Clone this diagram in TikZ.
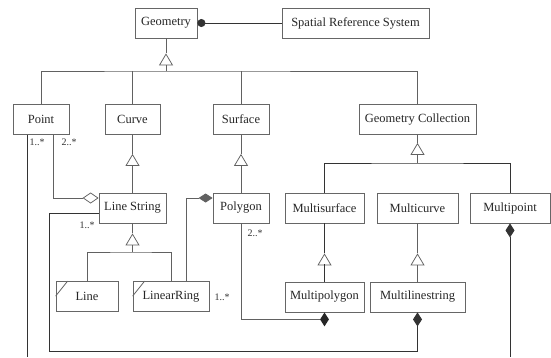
\documentclass[tikz,border=0pt]{standalone}
\usepackage{fontspec}
\setmainfont{Liberation Serif}
\usetikzlibrary{arrows.meta,shapes.geometric,calc}
\begin{document}
\begin{tikzpicture}[x=1pt,y=-1pt,
  box/.style={draw=black!60, line width=0.8pt, fill=white, inner sep=0pt,
    minimum height=30pt, text=black!85, font=\fontsize{12.5}{14}\selectfont},
  link/.style={draw=black!62, line width=0.75pt},
  heavy/.style={draw=black!80, line width=0.95pt},
  gen/.style={link, -{Triangle[open, length=12pt, width=14pt]}},
  comp/.style={link, {Diamond[length=14pt, width=9pt]}-},
  agg/.style={link, -{Diamond[open, length=16pt, width=11pt]}},
  mult/.style={font=\fontsize{10}{12}\selectfont, inner sep=0pt, text=black!80},
  slash/.style={draw=black!60, line width=0.8pt}
]
\useasboundingbox[fill=white] (0,0) rectangle (551,357);

% classes
\node[box, minimum width=62pt]  (geom)    at (166,23)    {Geometry};
\node[box, minimum width=147pt] (srs)     at (355.5,23)  {Spatial Reference System};
\node[box, minimum width=56pt]  (point)   at (41,119.5)  {Point};
\node[box, minimum width=55pt]  (curve)   at (132.5,119.5) {Curve};
\node[box, minimum width=56pt]  (surface) at (241,119.5) {Surface};
\node[box, minimum width=117pt] (gcoll)   at (417.5,119.5) {Geometry Collection};
\node[box, minimum width=67pt]  (lstring) at (132.5,208) {Line String};
\node[box, minimum width=56pt]  (polygon) at (241,208)   {Polygon};
\node[box, minimum width=79pt]  (msurf)   at (324.5,208) {Multisurface};
\node[box, minimum width=81pt]  (mcurve)  at (417.5,208) {Multicurve};
\node[box, minimum width=80pt]  (mpoint)  at (510,208)   {Multipoint};
\node[box, minimum width=62pt]  (line)    at (87,296.5)  {Line};
\node[box, minimum width=76pt]  (lring)   at (171,296.5) {LinearRing};
\node[box, minimum width=79pt]  (mpoly)   at (324.5,297) {Multipolygon};
\node[box, minimum width=95pt]  (mls)     at (417.5,297) {Multilinestring};

% corner marks on Line and LinearRing
\draw[slash] ([yshift=-15pt]line.north west) -- ([xshift=12pt]line.north west);
\draw[slash] ([yshift=-15pt]lring.north west) -- ([xshift=12pt]lring.north west);

% Geometry -- Spatial Reference System
\draw[heavy, {Circle[length=8pt]}-] (geom.east) -- (srs.west);

% Geometry generalization
\coordinate (ga) at ($(geom.south)+(0,15)$);
\coordinate (gb) at (166,71);
\draw[link] (geom.south) -- (ga);
\draw[gen] (gb) -- (ga);
\draw[link] (point.north) |- (gb) -| (gcoll.north);
\draw[link] (curve.north) -- (curve.north |- gb);
\draw[link] (surface.north) -- (surface.north |- gb);

% Curve -> Line String
\coordinate (ca) at ($(curve.south)+(0,19)$);
\draw[link] (curve.south) -- (ca);
\draw[gen] (lstring.north) -- (ca);

% Surface -> Polygon
\coordinate (sa) at ($(surface.south)+(0,19)$);
\draw[link] (surface.south) -- (sa);
\draw[gen] (polygon.north) -- (sa);

% Geometry Collection generalization
\coordinate (gca) at ($(gcoll.south)+(0,8)$);
\coordinate (gcb) at (417.5,163);
\draw[link] (gcoll.south) -- (gca);
\draw[gen] (gcb) -- (gca);
\draw[heavy] (msurf.north) |- (gcb) -| (mpoint.north);

% Line String generalization
\coordinate (lsa) at ($(lstring.south)+(0,10)$);
\coordinate (lsb) at (132.5,252);
\draw[link] (lstring.south) -- (lsa);
\draw[gen] (lsb) -- (lsa);
\draw[link] (line.north) |- (lsb) -| (lring.north);

% Multisurface -> Multipolygon
\coordinate (msa) at ($(msurf.south)+(0,30)$);
\draw[heavy] (msurf.south) -- (msa);
\draw[gen] (mpoly.north) -- (msa);
\draw[heavy] (mpoly.north) -- ++(0,-18);

% Multicurve -> Multilinestring
\coordinate (mca) at ($(mcurve.south)+(0,30)$);
\draw[link] (mcurve.south) -- (mca);
\draw[gen] (mls.north) -- (mca);

% Point -- Line String aggregation
\draw[agg] ([xshift=12pt]point.south) |- ([yshift=10pt]lstring.west);
\node[mult] (m1) at (37,142) {1..*};
\node[mult] (m2) at (69,142) {2..*};

% Point -- Multipoint (continues below)
\coordinate (pend) at (27,357);
\draw[heavy] ([xshift=-14pt]point.south) -- (pend);

% Line String -- Multilinestring composition
\coordinate (lc) at (49,351);
\draw[comp, heavy] (mls.south) |- (lc) |- ([yshift=-5pt]lstring.west);
\node[mult] (m3) at (87,225) {1..*};

% LinearRing -- Polygon composition
\draw[comp] ([yshift=10pt]polygon.west) -| ([xshift=15pt]lring.north);
\node[mult] (m4) at (222,297) {1..*};

% Polygon -- Multipolygon composition
\node[diamond, fill=black!85, inner sep=0pt, minimum width=9pt,
  minimum height=14pt] (mpd) at ($(mpoly.south)+(0,7)$) {};
\draw[link] (polygon.south) |- (mpd.west);
\node[mult] (m5) at (255,233) {2..*};

% Multipoint composition (continues below)
\coordinate (mpend) at (510,357);
\draw[comp, heavy] (mpoint.south) -- (mpend);
\end{tikzpicture}
\end{document}
